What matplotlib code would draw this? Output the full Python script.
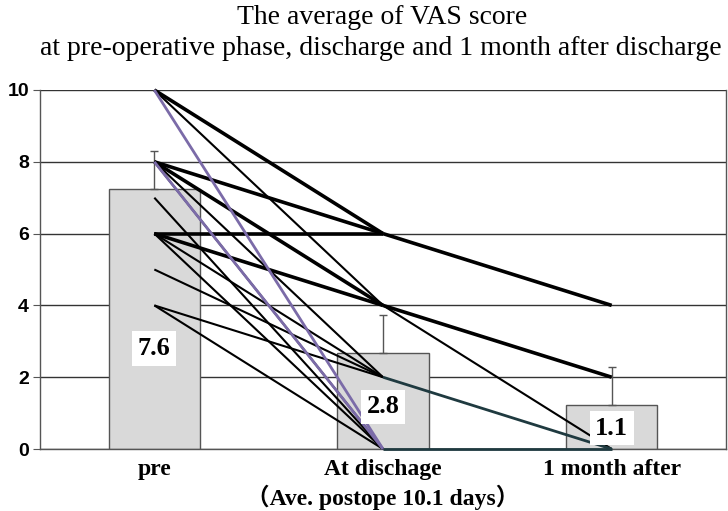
import numpy as np
import matplotlib.pyplot as plt

# Data
categories = ["pre", "At dischage\n\uff08Ave. postope 10.1 days\uff09", "1 month after"]
bar_means = [7.25, 2.67, 1.23]
bar_errors = [1.05, 1.05, 1.05]
bar_labels = ["7.6", "2.8", "1.1"]
label_y = [2.8, 1.17, 0.58]

# individual patients: pre -> discharge (start, end, kind)
pre_to_dis_start = [10, 10, 8, 8, 8, 8, 7, 6, 6, 6, 6, 5, 4, 4, 10, 8]
pre_to_dis_end = [6, 4, 6, 4, 2, 0, 0, 6, 4, 2, 0, 2, 2, 0, 0, 0]
pre_to_dis_kind = ["thick", "thin", "thick", "thick", "thin", "thin", "thin",
                   "thick", "thick", "thin", "thin", "thin", "thin", "thin",
                   "purple", "purple"]

# discharge -> 1 month
dis_to_month_start = [6, 4, 4, 2, 0]
dis_to_month_end = [4, 2, 0, 0, 0]
dis_to_month_kind = ["thick", "thick", "thin", "teal", "teal"]

styles = {
    "thick": dict(color="black", linewidth=2.6),
    "thin": dict(color="black", linewidth=1.5),
    "purple": dict(color="#7B6BA8", linewidth=2.0),
    "teal": dict(color="#1F3A40", linewidth=2.0),
}

fig = plt.figure(figsize=(7.28, 5.11), dpi=100)
ax = fig.add_axes([40 / 728, 1 - 449 / 511, 686 / 728, 359 / 511])

x = np.arange(len(categories))
ax.bar(x, bar_means, width=0.4, color="#D9D9D9", edgecolor="#555555",
       linewidth=1.0, zorder=2)
ax.errorbar(x, bar_means, yerr=[np.zeros(3), bar_errors], fmt="none",
            ecolor="#555555", elinewidth=1.0, capsize=3, capthick=1.0, zorder=3)

for s, e, k in zip(pre_to_dis_start, pre_to_dis_end, pre_to_dis_kind):
    ax.plot([0, 1], [s, e], zorder=4, clip_on=False, solid_capstyle="butt", **styles[k])
for s, e, k in zip(dis_to_month_start, dis_to_month_end, dis_to_month_kind):
    ax.plot([1, 2], [s, e], zorder=4, clip_on=False, solid_capstyle="butt", **styles[k])

for xi, yi, txt in zip(x, label_y, bar_labels):
    ax.text(xi, yi, txt, ha="center", va="center", fontsize=19, fontweight="bold",
            family="Liberation Serif", zorder=6,
            bbox=dict(facecolor="white", edgecolor="none", pad=4))

ax.set_xlim(-0.5, 2.5)
ax.set_ylim(0, 10)
ax.set_yticks([0, 2, 4, 6, 8, 10])
ax.yaxis.grid(True, color="#333333", linewidth=1.0, zorder=0)
ax.set_axisbelow(True)
for side in ["left", "right", "top", "bottom"]:
    ax.spines[side].set_color("#555555")
    ax.spines[side].set_linewidth(1.0)
ax.spines["top"].set_visible(False)

ax.set_xticks(x)
ax.set_xticklabels(categories, fontsize=17, fontweight="bold",
                   family=["Liberation Serif", "Noto Sans CJK JP"], linespacing=1.25)
ax.tick_params(axis="x", length=0, pad=7)
ax.tick_params(axis="y", length=5, color="#555555", pad=3)
for lbl in ax.get_yticklabels():
    lbl.set_fontsize(14)
    lbl.set_fontweight("bold")
    lbl.set_family("Liberation Sans")

fig.text(0.525, 0.966, "The average of VAS score", ha="center", va="center",
         fontsize=20, family="Liberation Serif")
fig.text(0.523, 0.906, "at pre-operative phase, discharge and 1 month after discharge",
         ha="center", va="center", fontsize=20, family="Liberation Serif")

plt.savefig("out.png", dpi=100)
